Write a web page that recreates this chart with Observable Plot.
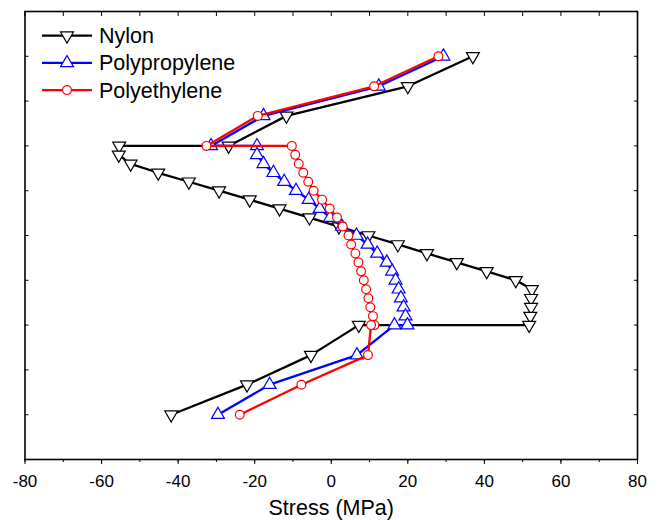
<!DOCTYPE html>
<html><head><meta charset="utf-8">
<script src="https://cdn.jsdelivr.net/npm/d3@7"></script>
<script src="https://cdn.jsdelivr.net/npm/@observablehq/plot@0.6"></script>
<style>
body{margin:0;background:#fff;}
#wrap{position:relative;width:661px;height:520px;font-family:"Liberation Sans",Arial,sans-serif;}
#legend{position:absolute;left:0;top:0;pointer-events:none;}
</style></head><body><div id="wrap"></div>
<script>
// Position through the thickness (unlabelled vertical axis)
const depth = [9, 8.33, 7.67, 7, 7, 6.8, 6.6, 6.4, 6.2, 6.0, 5.8, 5.6, 5.4, 5.2, 5.0, 4.8, 4.6, 4.4, 4.2, 4.0, 3.8, 3.6, 3.4, 3.2, 3.0, 3.0, 2.33, 1.67, 1];
// Stress (MPa) for each series
const nylon = [37.0, 20.0, -11.7, -26.8, -55.4, -55.5, -52.4, -45.2, -37.2, -29.3, -21.3, -13.5, -5.7, 2.0, 9.7, 17.4, 25.0, 32.8, 40.6, 48.2, 52.4, 52.2, 52.2, 52.0, 51.7, 7.2, -5.3, -22.0, -41.8];
const polypropylene = [29.3, 12.4, -17.7, -31.4, -19.4, -19.4, -17.7, -15.1, -12.3, -9.2, -5.9, -3.0, -0.3, 2.8, 6.6, 9.5, 12.0, 14.5, 15.9, 16.8, 17.6, 18.2, 18.9, 19.4, 19.9, 16.5, 6.7, -16.1, -29.6];
const polyethylene = [28.0, 11.2, -19.2, -32.6, -10.3, -9.4, -8.5, -7.3, -6.0, -4.6, -2.4, -0.4, 1.5, 3.0, 4.5, 5.2, 6.3, 7.1, 7.8, 8.5, 9.1, 9.7, 10.2, 10.9, 11.3, 10.4, 9.6, -7.8, -23.9];

const seriesNames = ["Nylon", "Polypropylene", "Polyethylene"];
const seriesColors = ["#000000", "#0000ff", "#ff0000"];
const seriesSymbols = ["triangle", "triangle", "circle"];
const seriesRotate = [180, 0, 0];

const xTicks = [-80, -60, -40, -20, 0, 20, 40, 60, 80];
const xMinorTicks = [-80, -70, -60, -50, -40, -30, -20, -10, 0, 10, 20, 30, 40, 50, 60, 70, 80];
const yTicks = [0, 1, 2, 3, 4, 5, 6, 7, 8, 9, 10];
const xTitle = "Stress (MPa)";

const seriesValues = [nylon, polypropylene, polyethylene];
const rows = [];
seriesValues.forEach((vals, i) => vals.forEach((v, j) => rows.push({series: seriesNames[i], stress: v, pos: depth[j]})));

const marks = [];
seriesNames.forEach((name, i) => {
  const data = rows.filter(d => d.series === name);
  marks.push(Plot.line(data, {x: "stress", y: "pos", stroke: seriesColors[i], strokeWidth: 2.3}));
  marks.push(Plot.dot(data, {x: "stress", y: "pos", symbol: seriesSymbols[i], rotate: seriesRotate[i],
    r: seriesSymbols[i] === "circle" ? 4.4 : 4.8, stroke: seriesColors[i], fill: "white", strokeWidth: 1.2}));
});

const chart = Plot.plot({
  width: 661, height: 520,
  marginLeft: 24.5, marginRight: 24, marginTop: 11, marginBottom: 61,
  x: {domain: [-80, 80], label: null},
  y: {domain: [0, 10], label: null},
  style: {fontFamily: '"Liberation Sans", Arial, sans-serif', fontSize: "17px", color: "black", background: "white"},
  marks: [
    ...marks,
    Plot.frame({stroke: "black", strokeWidth: 1.6}),
    Plot.axisX(xTicks, {anchor: "bottom", tickSize: 5, tickPadding: 10, tickFormat: d => String(d), label: null}),
    Plot.axisX(xMinorTicks, {anchor: "bottom", tickSize: 3, tickFormat: () => "", label: null}),
    Plot.axisX(xMinorTicks, {anchor: "top", tickSize: -4, tickFormat: () => "", label: null}),
    Plot.axisY(yTicks, {anchor: "left", tickSize: -4, tickFormat: () => "", label: null}),
    Plot.axisY(yTicks, {anchor: "right", tickSize: -4, tickFormat: () => "", label: null}),
    Plot.text([xTitle], {frameAnchor: "bottom", dy: 49, lineAnchor: "middle", fontSize: 21.5, text: d => d})
  ]
});
const wrap = document.getElementById("wrap");
wrap.appendChild(chart);

// Legend overlay (inside plot, top-left)
const leg = d3.select(wrap).append("svg").attr("id", "legend").attr("width", 300).attr("height", 110);
seriesNames.forEach((name, i) => {
  const cy = 35.7 + i * 27.2;
  const g = leg.append("g");
  g.append("line").attr("x1", 42).attr("x2", 92).attr("y1", cy).attr("y2", cy)
    .attr("stroke", seriesColors[i]).attr("stroke-width", 2.3);
  if (seriesSymbols[i] === "circle") {
    g.append("circle").attr("cx", 67).attr("cy", cy).attr("r", 4.4)
      .attr("fill", "white").attr("stroke", seriesColors[i]).attr("stroke-width", 1.2);
  } else {
    const r = 4.8;
    g.append("path").attr("d", d3.symbol(d3.symbolTriangle, Math.PI * r * r)())
      .attr("transform", `translate(67,${cy}) rotate(${seriesRotate[i]})`)
      .attr("fill", "white").attr("stroke", seriesColors[i]).attr("stroke-width", 1.2);
  }
  g.append("text").attr("x", 99).attr("y", cy).attr("dy", "0.35em")
    .attr("font-size", 21.5).attr("font-family", '"Liberation Sans", Arial, sans-serif')
    .attr("fill", "black").text(name);
});
</script></body></html>
